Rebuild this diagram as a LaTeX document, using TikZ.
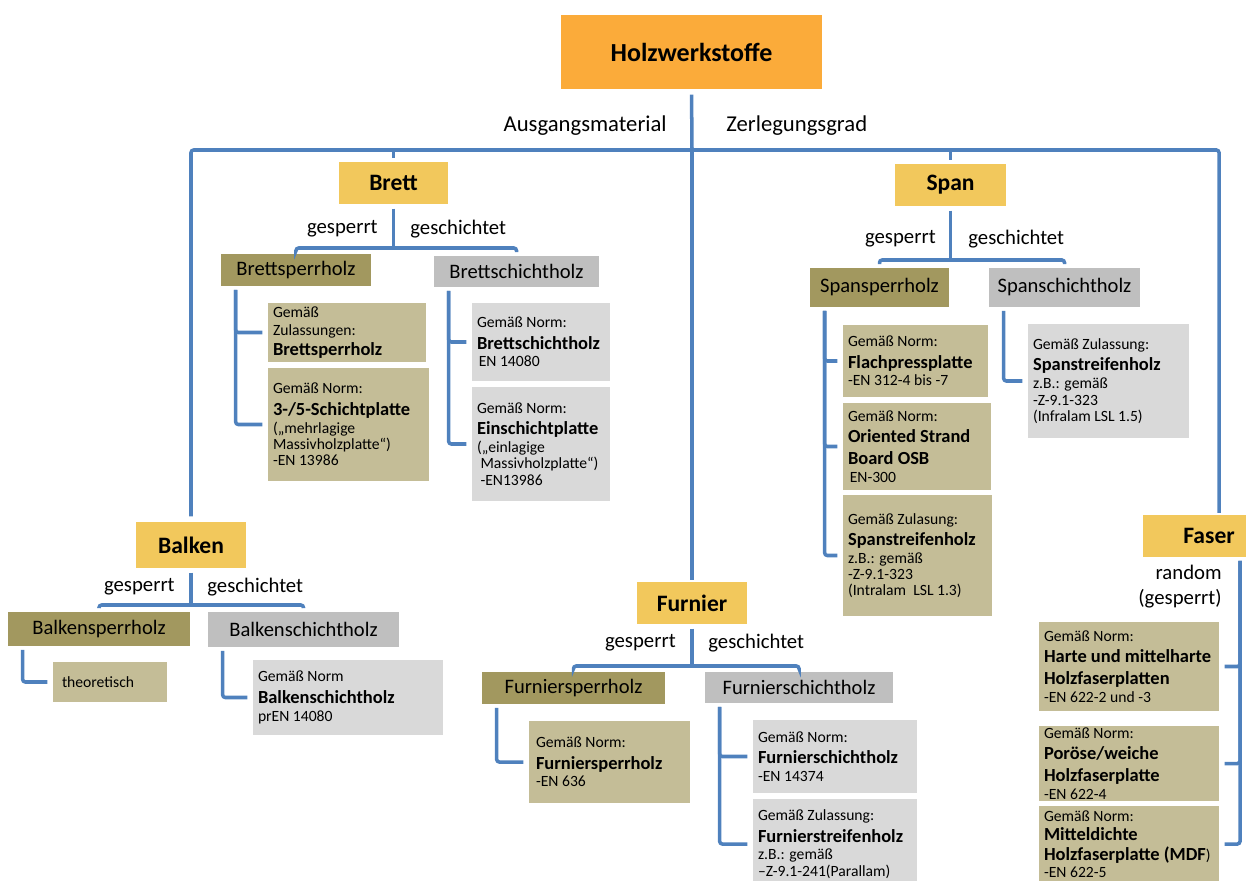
\documentclass[tikz,border=0pt]{standalone}
\usepackage{fontspec}
\setmainfont{Carlito}

\definecolor{holzorange}{RGB}{251,171,58}
\definecolor{catgold}{RGB}{242,200,92}
\definecolor{sperrdark}{RGB}{162,152,95}
\definecolor{sperrlight}{RGB}{196,189,151}
\definecolor{schichtdark}{RGB}{191,191,191}
\definecolor{schichtlight}{RGB}{217,217,217}
\definecolor{linkblue}{RGB}{79,129,189}

\newcommand{\leafname}[1]{{\fontsize{10.5}{11}\selectfont\bfseries #1}}

\begin{document}
\begin{tikzpicture}[
x=0.02cm,
y=-0.02cm,
link/.style={draw=linkblue, line width=2pt, rounded corners=1.5pt},
topbox/.style={rectangle, fill=holzorange, minimum width=5.22cm, minimum height=1.48cm, font=\fontsize{14.8}{18}\selectfont\bfseries},
catbox/.style={rectangle, fill=catgold, minimum height=0.84cm, font=\fontsize{13.4}{16}\selectfont\bfseries},
sperrhead/.style={rectangle, fill=sperrdark, font=\fontsize{11.7}{14}\selectfont},
schichthead/.style={rectangle, fill=schichtdark, font=\fontsize{11.7}{14}\selectfont},
leaf/.style={rectangle, inner xsep=0.1cm, inner ysep=0pt, align=flush left, font=\fontsize{8.9}{9.2}\selectfont},
sperrleaf/.style={leaf, fill=sperrlight},
schichtleaf/.style={leaf, fill=schichtlight},
lbl/.style={font=\fontsize{11.8}{14.2}\selectfont, inner sep=0pt},
]
\useasboundingbox (0,0) rectangle (1246,881);

% top
\node[topbox] (holz) at (691.5,52) {Holzwerkstoffe};
\coordinate (hub) at (692,150);
\node[lbl, font=\fontsize{12.9}{15}\selectfont, anchor=east] (ausgang) at (667,126) {Ausgangsmaterial};
\node[lbl, font=\fontsize{12.9}{15}\selectfont, anchor=west] (zerleg) at (726,126) {Zerlegungsgrad};

% categories
\node[catbox, minimum width=2.18cm] (brett) at (393.5,183) {Brett};
\node[catbox, minimum width=2.22cm] (span) at (950.5,185) {Span};
\node[catbox, minimum width=2.2cm, minimum height=0.92cm] (balken) at (191,545) {Balken};
\node[catbox, minimum width=2.2cm] (furnier) at (692,603) {Furnier};
\node[catbox, minimum width=2.64cm] (faser) at (1209,536) {Faser};

\draw[link, shorten <=3pt] (holz.south) -- (hub);
\draw[link, shorten <=3pt, shorten >=1pt] (balken.north) |- (hub) -| ([xshift=0.2cm]faser.north);
\draw[link, shorten >=1pt] (hub) -- (furnier.north);
\draw[link, shorten >=2pt] (brett.north |- hub) -- (brett.north);
\draw[link, shorten >=2pt] (span.north |- hub) -- (span.north);

% gesperrt / geschichtet
\coordinate (brettfork) at (393.5,248);
\coordinate (spanfork) at (950.5,260);
\coordinate (balkenfork) at (191,605);
\coordinate (furnierfork) at (692,666);
\foreach \fork/\fx/\fy in {brett/394/229, span/952/239, balken/191/587, furnier/692/643}
{
 \node[lbl, anchor=east] (\fork-sp) at (\fx-16,\fy) {gesperrt};
 \node[lbl, anchor=west] (\fork-sch) at (\fx+16,\fy) {geschichtet};
}

\node[sperrhead, minimum width=3cm, minimum height=0.64cm] (bsp) at (296,270) {Brettsperrholz};
\node[schichthead, minimum width=3.3cm, minimum height=0.62cm] (bsch) at (516.5,271.5) {Brettschichtholz};
\node[sperrhead, minimum width=2.78cm, minimum height=0.78cm] (ssp) at (879.5,287.5) {Spansperrholz};
\node[schichthead, minimum width=3.02cm, minimum height=0.78cm] (ssch) at (1064.5,287.5) {Spanschichtholz};
\node[sperrhead, minimum width=3.64cm, minimum height=0.68cm] (bksp) at (99,629) {Balkensperrholz};
\node[schichthead, minimum width=3.82cm, minimum height=0.7cm] (bksch) at (303.5,629.5) {Balkenschichtholz};
\node[sperrhead, minimum width=3.66cm, minimum height=0.64cm] (fsp) at (573.5,688) {Furniersperrholz};
\node[schichthead, minimum width=3.76cm, minimum height=0.62cm] (fsch) at (799,687.5) {Furnierschichtholz};

\draw[link, shorten <=2.5pt] (brett.south) -- (brettfork);
\draw[link, shorten <=2pt, shorten >=2pt] (bsp.north) |- (brettfork) -| (bsch.north);
\draw[link, shorten <=2.5pt] (span.south) -- (spanfork);
\draw[link, shorten <=2pt, shorten >=2pt] (ssp.north) |- (spanfork) -| (ssch.north);
\draw[link, shorten <=2.5pt] (balken.south) -- (balkenfork);
\draw[link, shorten <=2pt, shorten >=2pt] (bksp.north) |- (balkenfork) -| (bksch.north);
\draw[link, shorten <=2.5pt] (furnier.south) -- (furnierfork);
\draw[link, shorten <=2pt, shorten >=2pt] (fsp.north) |- (furnierfork) -| (fsch.north);

% Brett
\node[sperrleaf, text width=2.96cm, minimum height=1.18cm] (bspzul) at (347,332.5) {Gemäß\\[1pt]Zulassungen:\\[2pt]\leafname{Brettsperrholz}};
\node[sperrleaf, text width=3.02cm, minimum height=2.26cm] (bsp35) at (348.5,424.5) {Gemäß Norm:\\[3pt]\leafname{3-/5-Schichtplatte}\\[1pt](„mehrlagige\\Massivholzplatte“)\\-EN 13986};
\node[schichtleaf, text width=2.56cm, minimum height=1.56cm] (bsh) at (541,342) {Gemäß Norm:\\[3pt]\leafname{Brettschichtholz}\\[1pt]\hspace{1pt}EN 14080};
\node[schichtleaf, text width=2.56cm, minimum height=2.28cm] (esp) at (541,444) {Gemäß Norm:\\[3pt]\leafname{Einschichtplatte}\\[1pt](„einlagige\\\hspace{2pt}Massivholzplatte“)\\\hspace{2pt}-EN13986};

% Span
\node[sperrleaf, text width=2.7cm, minimum height=1.44cm] (flach) at (915.5,361) {Gemäß Norm:\\[3pt]\leafname{Flachpressplatte}\\[1pt]-EN 312-4 bis -7};
\node[sperrleaf, text width=2.76cm, minimum height=1.74cm] (osb) at (917,446.5) {Gemäß Norm:\\[3pt]\leafname{Oriented Strand}\\[3pt]\leafname{Board OSB}\\[1pt]\hspace{1pt}EN-300};
\node[sperrleaf, text width=2.78cm, minimum height=2.42cm] (psl) at (917.5,555.5) {Gemäß Zulasung:\\[3pt]\leafname{Spanstreifenholz}\\[1pt]z.B.: gemäß\\-Z-9.1-323\\(Intralam\ \ LSL 1.3)};
\node[schichtleaf, text width=3.02cm, minimum height=2.28cm] (lsl) at (1108.5,381) {Gemäß Zulassung:\\[3pt]\leafname{Spanstreifenholz}\\[1pt]z.B.: gemäß\\-Z-9.1-323\\(Infralam LSL 1.5)};

% Balken
\node[sperrleaf, inner xsep=0.18cm, text width=1.92cm, minimum height=0.8cm] (theo) at (110,682) {theoretisch};
\node[schichtleaf, text width=3.6cm, minimum height=1.5cm] (bkleaf) at (348,697.5) {Gemäß Norm\\[3pt]\leafname{Balkenschichtholz}\\[1pt]prEN 14080};

% Furnier
\node[sperrleaf, inner xsep=0.14cm, text width=2.94cm, minimum height=1.64cm] (fspleaf) at (609.5,762) {Gemäß Norm:\\[3pt]\leafname{Furniersperrholz}\\[1pt]-EN 636};
\node[schichtleaf, text width=3.08cm, minimum height=1.46cm] (fshleaf) at (835,756.5) {Gemäß Norm:\\[3pt]\leafname{Furnierschichtholz}\\[1pt]-EN 14374};
\node[schichtleaf, text width=3.08cm, minimum height=1.8cm] (fstleaf) at (835,844) {Gemäß Zulassung:\\[3pt]\leafname{Furnierstreifenholz}\\[1pt]z.B.: gemäß\\–Z-9.1-241(Parallam)};

\foreach \hd/\lf in {bsp/bspzul, bsp/bsp35, bsch/bsh, bsch/esp, ssp/flach, ssp/osb, ssp/psl, ssch/lsl, bksp/theo, bksch/bkleaf, fsp/fspleaf, fsch/fshleaf, fsch/fstleaf}
 \draw[link, shorten <=2pt, shorten >=3pt] ([xshift=0.3cm]\hd.south west) |- (\lf.west);

% Faser
\node[lbl, align=right, anchor=east] (random) at (1222,587) {random\\(gesperrt)};
\node[sperrleaf, text width=3.4cm, minimum height=1.78cm] (harte) at (1129,666.5) {Gemäß Norm:\\[3pt]\leafname{Harte und mittelharte}\\[3pt]\leafname{Holzfaserplatten}\\[1pt]-EN 622-2 und -3};
\node[sperrleaf, text width=3.4cm, minimum height=1.5cm] (poroes) at (1129,763.5) {Gemäß Norm:\\[3pt]\leafname{Poröse/weiche}\\[3pt]\leafname{Holzfaserplatte}\\[1pt]-EN 622-4};
\node[sperrleaf, text width=3.4cm, minimum height=1.52cm] (mdf) at (1129,844) {Gemäß Norm:\\[2pt]\leafname{Mitteldichte}\\[2pt]\leafname{Holzfaserplatte (MDF}{)}\\[0.5pt]-EN 622-5};

\foreach \lf in {harte, poroes, mdf}
 \draw[link, shorten <=2pt, shorten >=3pt] ([xshift=0.62cm]faser.south) |- (\lf.east);
\end{tikzpicture}
\end{document}
